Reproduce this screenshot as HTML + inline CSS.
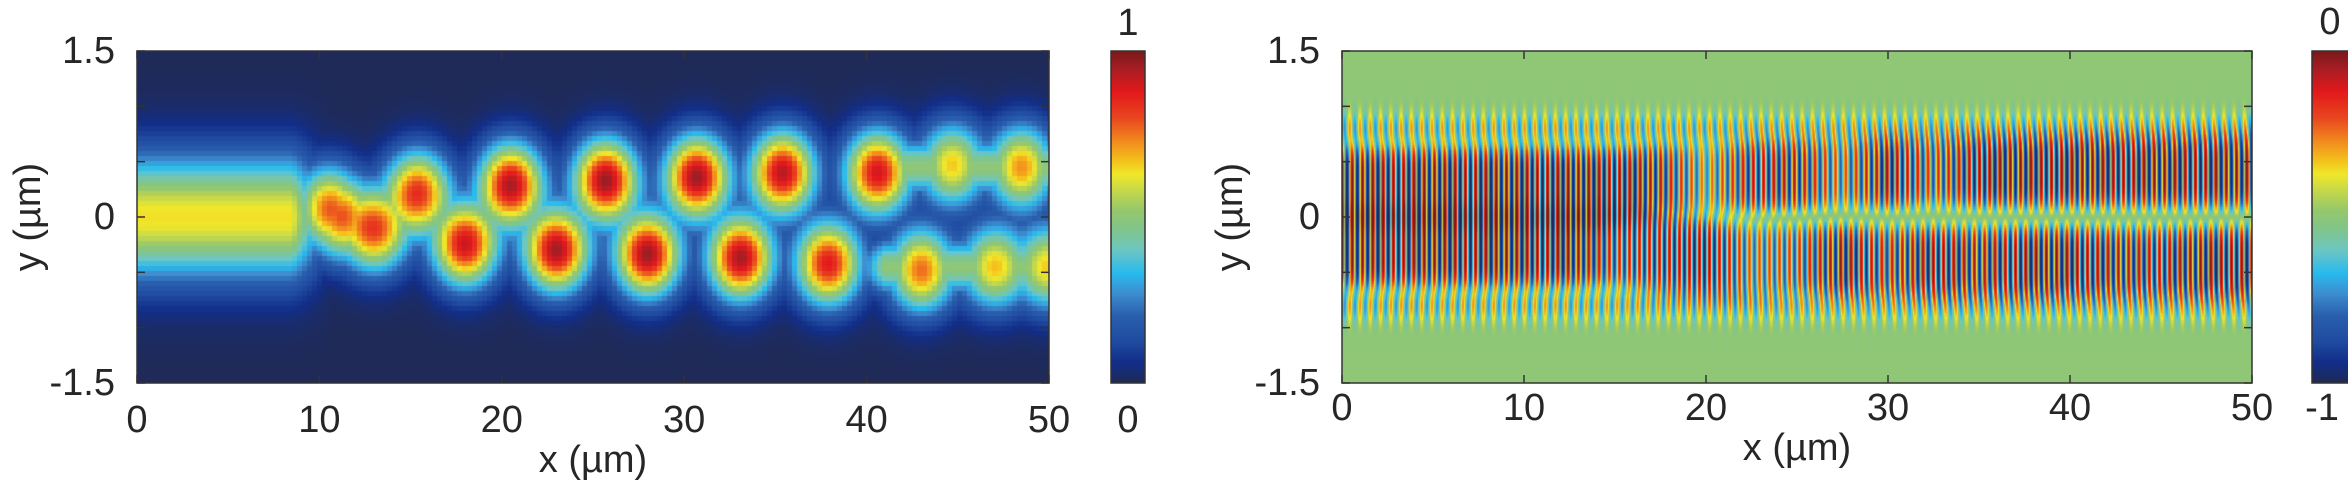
<!DOCTYPE html>
<html><head><meta charset="utf-8"><style>
html,body{margin:0;padding:0;background:#fff;width:2348px;height:484px;overflow:hidden;position:relative}
canvas{position:absolute}
svg{position:absolute;left:0;top:0}
text{font-family:"Liberation Sans",Arial,sans-serif;font-size:38px;fill:#262626}
</style></head><body>
<canvas id="left-map" width="912" height="332" style="left:137px;top:51px"></canvas>
<canvas id="left-cb" width="34" height="332" style="left:1111px;top:51px"></canvas>
<canvas id="right-map" width="910" height="332" style="left:1342px;top:51px"></canvas>
<canvas id="right-cb" width="36" height="332" style="left:2312px;top:51px"></canvas>
<svg id="ov" width="2348" height="484"></svg>
<script>
// ---- data ----
const xTicks=[0,10,20,30,40,50];
const yTicks=[-1.5,-1,-0.5,0,0.5,1,1.5];
const yTickLabels=["-1.5","","","0","","","1.5"];
// left: input beam
const beamEnd=8.5, beamPeak=0.64, beamWidth=0.55;
// left: intensity lobes
const lobeX=[10.4,11.2,13.1,15.4,18.0,20.5,23.0,25.7,28.0,30.7,33.1,35.4,37.9,40.6,43.0,44.7,47.0,48.5,50.0];
const lobeY=[0.09,0.0,-0.12,0.22,-0.25,0.29,-0.30,0.33,-0.34,0.36,-0.37,0.40,-0.42,0.40,-0.48,0.47,-0.45,0.45,-0.45];
const lobeV=[0.62,0.58,0.74,0.82,0.90,0.94,0.95,0.96,0.96,0.96,0.95,0.93,0.88,0.90,0.76,0.66,0.66,0.72,0.65];
// right: channel amplitudes sampled every 2.5 um
const sampleX=[0,2.5,5,7.5,10,12.5,15,17.5,20,22.5,25,27.5,30,32.5,35,37.5,40,42.5,45,47.5,50];
const upA=[1,1,1,1,1,1,1,0.9,0.5,0.9,0.9,0.6,1,0.7,1,1,1,1,1,1,1];
const loA=[1,1,1,1,1,1,0.8,0.9,1,0.6,0.7,1,0.8,1,0.9,1,1,0.9,0.9,1,1];
const upC=[0.3,0.3,0.3,0.3,0.3,0.3,0.3,0.33,0.35,0.37,0.38,0.4,0.41,0.42,0.42,0.42,0.42,0.42,0.42,0.42,0.42];
const loC=[-0.3,-0.3,-0.3,-0.3,-0.3,-0.3,-0.3,-0.33,-0.35,-0.37,-0.38,-0.4,-0.41,-0.42,-0.42,-0.42,-0.42,-0.42,-0.42,-0.42,-0.42];
const phase=[0,0,0,0,0,0,0,0.8,1.6,2.4,3.14,3.14,3.14,3.14,3.14,3.14,3.14,3.14,3.14,3.14,3.14];
const period=0.565;
// colormap stops
const cmT=[0,0.06,0.12,0.2,0.27,0.33,0.4,0.46,0.52,0.58,0.63,0.67,0.73,0.8,0.88,0.95,1];
const cmC=["#1f2a58","#122e88","#1f4aa0","#2a5fae","#3d8fd1","#29bbee","#6dc7c3","#80c58e","#96c86c","#c6d94a","#f1e82a","#f4c21c","#f28a1e","#e9461f","#e3191c","#a51e24","#7a1a1a"];
</script>
<script>
const cmRGB=cmC.map(h=>[parseInt(h.slice(1,3),16),parseInt(h.slice(3,5),16),parseInt(h.slice(5,7),16)]);
function cmap(t){t=Math.max(0,Math.min(1,t));for(let i=1;i<cmT.length;i++){if(t<=cmT[i]){const f=(t-cmT[i-1])/(cmT[i]-cmT[i-1]);const a=cmRGB[i-1],b=cmRGB[i];return [a[0]+(b[0]-a[0])*f,a[1]+(b[1]-a[1])*f,a[2]+(b[2]-a[2])*f];}}return cmRGB[cmRGB.length-1];}
function interp(arr,x){const s=x/2.5;const i=Math.min(arr.length-2,Math.max(0,Math.floor(s)));const f=Math.min(1,Math.max(0,s-i));return arr[i]*(1-f)+arr[i+1]*f;}
// Left heatmap (blocky cells)
(function(){
 const c=document.getElementById('left-map'),g=c.getContext('2d');
 const W=c.width,H=c.height,cs=5;
 const img=g.createImageData(W,H);
 for(let py=0;py<H;py+=cs){for(let px=0;px<W;px+=cs){
  const x=(px+cs/2)/W*50,y=1.5-(py+cs/2)/H*3;
  let fade=x<beamEnd?1:Math.max(0,1-(x-beamEnd)/2.5);
  let v=beamPeak*Math.exp(-Math.pow(y/beamWidth,2))*fade;
  let sum=0,mx=0;
  for(let i=0;i<lobeX.length;i++){const dx=(x-lobeX[i])/1.8,dy=(y-lobeY[i])/0.38;const r2=dx*dx+dy*dy;const w=lobeV[i]*Math.exp(-r2);sum+=w;if(w>mx)mx=w;}
  let lv=mx+0.3*(sum-mx);
  if(lv>v)v=lv;
  if(x>39){const r=Math.min(1,(x-39)/2);const b=0.5*r*Math.max(Math.exp(-Math.pow((y-0.45)/0.25,2)),Math.exp(-Math.pow((y+0.45)/0.25,2)));if(b>v)v=b;}
  v=Math.min(v,0.98);
  const col=cmap(v);
  for(let yy=py;yy<Math.min(H,py+cs);yy++)for(let xx=px;xx<Math.min(W,px+cs);xx++){const k=(yy*W+xx)*4;img.data[k]=col[0];img.data[k+1]=col[1];img.data[k+2]=col[2];img.data[k+3]=255;}
 }}
 g.putImageData(img,0,0);
})();
// Right heatmap
(function(){
 const c=document.getElementById('right-map'),g=c.getContext('2d');
 const W=c.width,H=c.height;
 const img=g.createImageData(W,H);const k0=2*Math.PI/period;
 for(let px=0;px<W;px++){
  const x=(px+0.5)/W*50;
  const au=interp(upA,x),al=interp(loA,x),cu=interp(upC,x),cl=interp(loC,x),ph=interp(phase,x);
  for(let py=0;py<H;py+=2){
   const y=1.5-(py+1)/H*3;
   const eu=Math.exp(-Math.pow((y-cu)/0.36,4)),el=Math.exp(-Math.pow((y-cl)/0.36,4));
   let v=au*eu*Math.cos(k0*x)+al*el*Math.cos(k0*x+ph);
   const fr=0.45*Math.exp(-Math.pow((Math.abs(y)-0.8)/0.16,2));
   v+=fr*Math.cos(k0*x+Math.PI/2);
   v=Math.max(-1,Math.min(1,v));
   const col=cmap((v+1)/2);
   for(let yy=py;yy<Math.min(H,py+2);yy++){const k=(yy*W+px)*4;img.data[k]=col[0];img.data[k+1]=col[1];img.data[k+2]=col[2];img.data[k+3]=255;}
  }
 }
 g.putImageData(img,0,0);
})();
// colorbars
['left-cb','right-cb'].forEach(id=>{const c=document.getElementById(id),g=c.getContext('2d');for(let py=0;py<c.height;py++){const col=cmap(1-py/(c.height-1));g.fillStyle=`rgb(${col[0]|0},${col[1]|0},${col[2]|0})`;g.fillRect(0,py,c.width,1);}});
// overlay axes
const NS='http://www.w3.org/2000/svg',ov=document.getElementById('ov');
function el(tag,attrs,txt){const e=document.createElementNS(NS,tag);for(const k in attrs)e.setAttribute(k,attrs[k]);if(txt!==undefined)e.textContent=txt;ov.appendChild(e);return e;}
function axes(name,L,R,T,B,xtY,xlY){
 const fx=v=>L+(v/50)*(R-L), fy=v=>T+(1.5-v)/3*(B-T);
 const box=el('rect',{x:L,y:T,width:R-L,height:B-T,fill:'none',stroke:'#333',"stroke-width":1.5});
 
 
 xTicks.forEach(v=>{const X=fx(v);
  el('line',{x1:X,y1:B,x2:X,y2:B-8,stroke:'#333',"stroke-width":1.5});
  el('line',{x1:X,y1:T,x2:X,y2:T+8,stroke:'#333',"stroke-width":1.5});
  const t=el('text',{x:X,y:xtY,"text-anchor":"middle","dominant-baseline":"central"},String(v));
  
  
 });
 yTicks.forEach((v,i)=>{const Y=fy(v);
  el('line',{x1:L,y1:Y,x2:L+8,y2:Y,stroke:'#333',"stroke-width":1.5});
  el('line',{x1:R,y1:Y,x2:R-8,y2:Y,stroke:'#333',"stroke-width":1.5});
  if(yTickLabels[i]){const t=el('text',{x:L-22,y:Y,"text-anchor":"end","dominant-baseline":"central"},yTickLabels[i]);
   
   }
 });
 const xl=el('text',{x:(L+R)/2,y:xlY,"text-anchor":"middle","dominant-baseline":"central"},'x (µm)');
 
 
 const yx=name==='left'?28:1230;
 const yl=el('text',{x:yx,y:(T+B)/2,"text-anchor":"middle","dominant-baseline":"central",transform:`rotate(-90 ${yx} ${(T+B)/2})`},'y (µm)');
 
 
}
axes('left',137,1049,51,383,420,460);
axes('right',1342,2252,51,383,408,448);
el('rect',{x:1111,y:51,width:34,height:332,fill:'none',stroke:'#333',"stroke-width":1.5});
el('rect',{x:2312,y:51,width:40,height:332,fill:'none',stroke:'#333',"stroke-width":1.5});
const cbl=[[1128,23,'1'],[1128,420,'0'],[2330,22,'0'],[2322,408,'-1']];
cbl.forEach(a=>{const t=el('text',{x:a[0],y:a[1],"text-anchor":"middle","dominant-baseline":"central"},a[2]);
 
 });
</script>
</body></html>
